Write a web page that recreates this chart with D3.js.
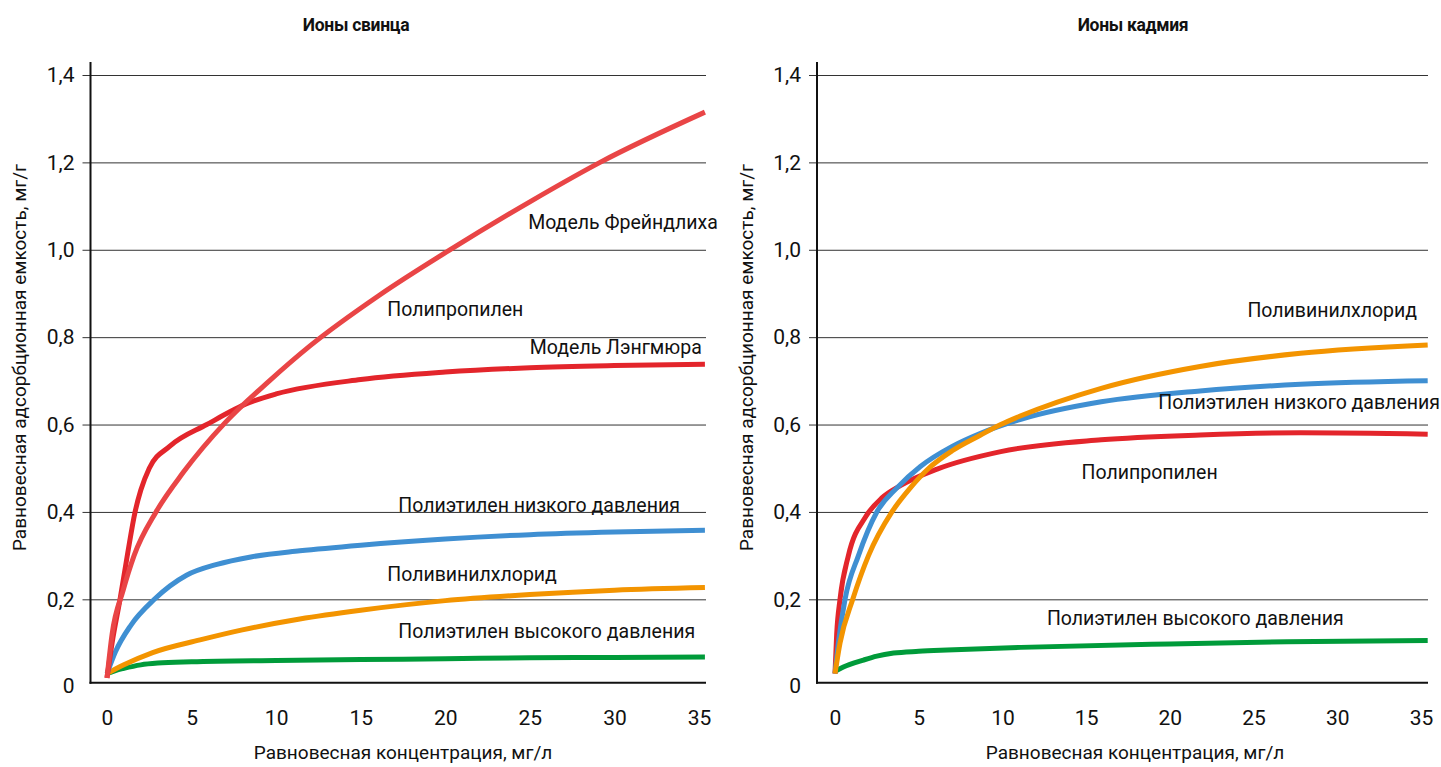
<!DOCTYPE html>
<html>
<head>
<meta charset="utf-8">
<script src="https://cdn.jsdelivr.net/npm/d3@7"></script>
<style>
  html, body { margin: 0; padding: 0; background: #fff; }
  svg { display: block; }
  text { font-family: Roboto, "Liberation Sans", sans-serif; fill: #111; }
</style>
</head>
<body>
<svg id="chart" width="1441" height="767"></svg>
<script>
// ---------- DATA ----------
const yTicks = [0, 0.2, 0.4, 0.6, 0.8, 1.0, 1.2, 1.4];
const xTicks = [0, 5, 10, 15, 20, 25, 30, 35];
const yTitle = "Равновесная адсорбционная емкость, мг/г";
const xTitle = "Равновесная концентрация, мг/л";

// Lead ions (left)
const leadTitle = "Ионы свинца";
const leadFreundlich = [[0,0.02],[0.3,0.12],[0.95,0.22],[1.6,0.3],[2.9,0.4],[4.5,0.49],[7.0,0.605],[9.6,0.7],[12,0.78],[16.1,0.896],[20.2,0.998],[25.1,1.112],[29.15,1.2],[35.35,1.315]];
const leadLangmuir   = [[0,0.02],[0.3,0.1],[0.77,0.2],[1.2,0.3],[1.66,0.4],[2.0,0.45],[2.5,0.5],[3.7,0.55],[5.9,0.6],[8.4,0.65],[10,0.67],[15,0.703],[20,0.72],[25,0.73],[30,0.735],[35.35,0.738]];
const leadLDPE       = [[0,0.03],[0.5,0.08],[1.4,0.14],[2.8,0.2],[4.7,0.255],[6.5,0.28],[8.5,0.297],[11.4,0.311],[15,0.324],[20,0.338],[25,0.348],[30,0.354],[35.35,0.358]];
const leadPVC        = [[0,0.03],[1,0.05],[2.7,0.078],[5.5,0.107],[8,0.13],[11.4,0.155],[15,0.175],[20,0.197],[25,0.211],[30,0.221],[35.35,0.227]];
const leadHDPE       = [[0,0.03],[0.5,0.037],[1,0.042],[2,0.05],[3,0.054],[5,0.057],[10,0.06],[15,0.062],[20,0.064],[25,0.066],[30,0.067],[35.35,0.068]];

// Cadmium ions (right)
const cadTitle = "Ионы кадмия";
const cadPP   = [[0,0.03],[0.1,0.12],[0.3,0.2],[0.8,0.3],[1.85,0.39],[2.8,0.432],[3.9,0.46],[6.1,0.498],[9.9,0.538],[15.9,0.565],[21.8,0.576],[27.8,0.581],[35.4,0.578]];
const cadLDPE = [[0,0.03],[0.2,0.1],[0.6,0.2],[1.4,0.3],[2.5,0.4],[3.7,0.455],[5.1,0.504],[7,0.55],[8.7,0.58],[11.1,0.612],[15.9,0.652],[21.8,0.677],[27.8,0.692],[35.4,0.70]];
const cadPVC  = [[0,0.03],[0.3,0.1],[1.06,0.2],[2.0,0.3],[3.4,0.4],[4.5,0.455],[5.6,0.5],[7,0.54],[8.7,0.576],[9.9,0.6],[11.1,0.62],[15.9,0.683],[21.8,0.733],[27.8,0.763],[35.4,0.782]];
const cadHDPE = [[0,0.035],[0.5,0.045],[1.7,0.061],[2.5,0.07],[3.5,0.077],[5,0.081],[6.7,0.084],[11.1,0.09],[20,0.098],[27,0.103],[35.4,0.106]];

// Curve labels: [text, x-value, y-value]
const leadLabels = [
  ["Модель Фрейндлиха", 24.9, 1.064],
  ["Полипропилен", 16.57, 0.864],
  ["Модель Лэнгмюра", 25.0, 0.776],
  ["Полиэтилен низкого давления", 17.22, 0.416],
  ["Поливинилхлорид", 16.57, 0.258],
  ["Полиэтилен высокого давления", 17.22, 0.126]
];
const cadLabels = [
  ["Поливинилхлорид", 24.63, 0.862],
  ["Полиэтилен низкого давления", 19.31, 0.652],
  ["Полипропилен", 14.73, 0.491],
  ["Полиэтилен высокого давления", 12.66, 0.157]
];

const COLORS = { red: "#e3252b", redLight: "#e94546", blue: "#3f8fd2", orange: "#f39400", green: "#009b3a" };

// ---------- DRAW ----------
const svg = d3.select("#chart");

function panel(cfg) {
  const g = svg.append("g");
  const x = d3.scaleLinear().domain([0, 35]).range([cfg.x0, cfg.x35]);
  const y = d3.scaleLinear().domain([0, 1.4]).range([686.7, 75]);

  // y axis with gridlines
  const yAxis = d3.axisLeft(y).tickValues(yTicks.filter(d => d > 0))
    .tickFormat(d => d3.format(".1f")(d).replace(".", ","))
    .tickSizeInner(-(cfg.gridEnd - cfg.axisX)).tickSizeOuter(0).tickPadding(16);
  const ya = g.append("g").attr("transform", `translate(${cfg.axisX},0)`).call(yAxis);
  ya.select(".domain").remove();
  ya.selectAll(".tick line").attr("x1", -8).attr("stroke", "#333").attr("stroke-width", 1);
  ya.selectAll(".tick text").style("font-size", "21px").attr("fill", "#111");
  // zero label
  g.append("text").attr("x", cfg.axisX - 16).attr("y", y(0)).attr("dy", "0.32em")
    .attr("text-anchor", "end").style("font-size", "21px").text("0");

  // x axis
  const xAxis = d3.axisBottom(x).tickValues(xTicks).tickSize(0).tickPadding(27);
  const xa = g.append("g").attr("transform", `translate(0,${y(0) - 4})`).call(xAxis);
  xa.select(".domain").remove();
  xa.selectAll(".tick text").style("font-size", "21px").attr("fill", "#111");
  g.append("line").attr("x1", cfg.axisX - 1).attr("x2", cfg.gridEnd)
    .attr("y1", y(0) - 4).attr("y2", y(0) - 4).attr("stroke", "#111").attr("stroke-width", 2);
  g.append("line").attr("x1", cfg.axisX).attr("x2", cfg.axisX)
    .attr("y1", 62).attr("y2", y(0) - 3).attr("stroke", "#111").attr("stroke-width", 2);

  // titles
  g.append("text").attr("x", cfg.titleX).attr("y", 25).attr("dy", "0.35em")
    .attr("text-anchor", "middle").style("font-size", "17.5px").style("font-weight", "bold")
    .style("letter-spacing", "-0.3px").text(cfg.title);
  g.append("text").attr("transform", `translate(${cfg.axisX - 71},${(62 + 683) / 2 - 15}) rotate(-90)`)
    .attr("dy", "0.35em").attr("text-anchor", "middle").style("font-size", "19px").text(yTitle);
  g.append("text").attr("x", cfg.xTitleX).attr("y", 752).attr("dy", "0.35em")
    .attr("text-anchor", "middle").style("font-size", "19px").text(xTitle);

  // lines
  const line = d3.line().x(d => x(d[0])).y(d => y(d[1])).curve(d3.curveMonotoneX);
  cfg.series.forEach(s => {
    g.append("path").datum(s.data).attr("d", line).attr("fill", "none")
      .attr("stroke", s.color).attr("stroke-width", 5).attr("stroke-linecap", "butt");
  });

  // labels
  cfg.labels.forEach(l => {
    g.append("text").attr("x", x(l[1])).attr("y", y(l[2])).attr("dy", "0.35em")
      .style("font-size", "19.5px").text(l[0]);
  });
}

panel({
  title: leadTitle, titleX: 356, xTitleX: 403,
  axisX: 90.5, gridEnd: 706, x0: 107, x35: 699,
  series: [
    { data: leadHDPE, color: COLORS.green },
    { data: leadPVC, color: COLORS.orange },
    { data: leadLDPE, color: COLORS.blue },
    { data: leadLangmuir, color: COLORS.red },
    { data: leadFreundlich, color: COLORS.redLight }
  ],
  labels: leadLabels
});

panel({
  title: cadTitle, titleX: 1133, xTitleX: 1135,
  axisX: 817, gridEnd: 1428, x0: 835, x35: 1421,
  series: [
    { data: cadHDPE, color: COLORS.green },
    { data: cadPP, color: COLORS.red },
    { data: cadLDPE, color: COLORS.blue },
    { data: cadPVC, color: COLORS.orange }
  ],
  labels: cadLabels
});
</script>
</body>
</html>
